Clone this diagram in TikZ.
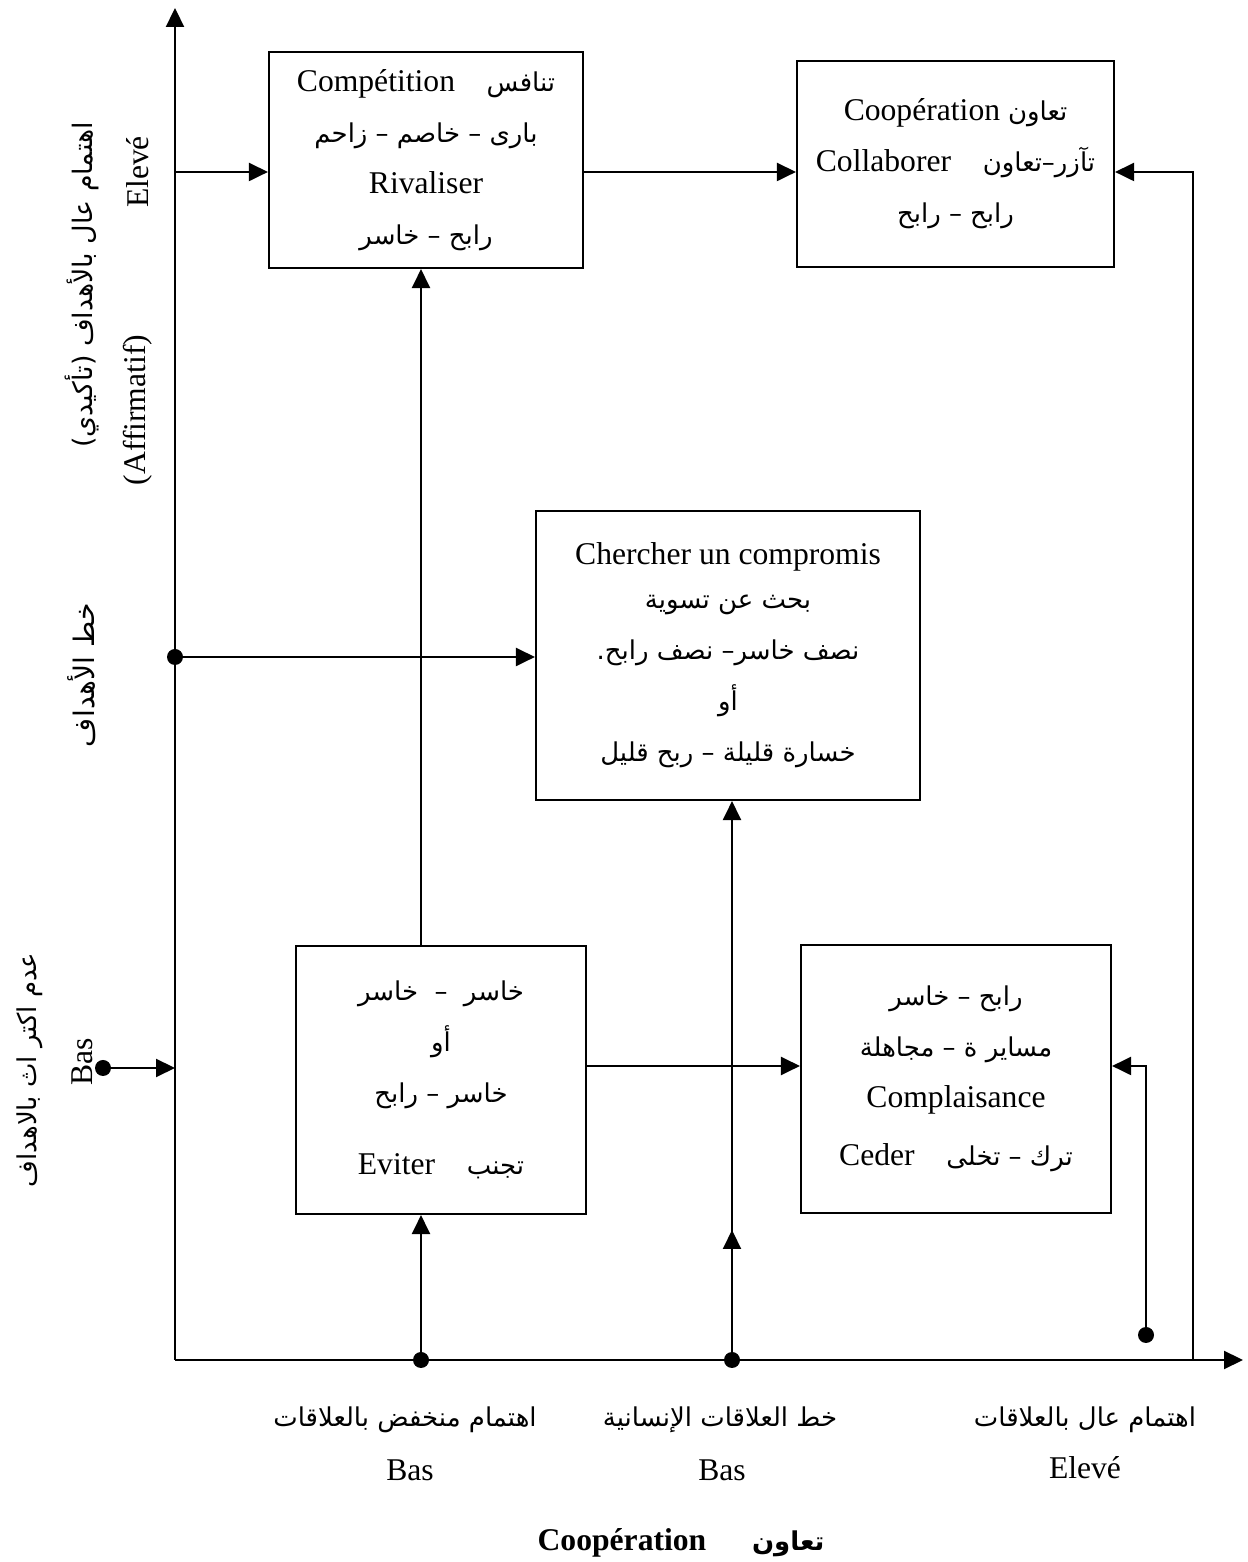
\documentclass[tikz,border=0pt]{standalone}
\usepackage{fontspec}
\setmainfont{Liberation Serif}
\newfontfamily\arabicfont[Script=Arabic,Scale=0.82]{DejaVu Sans}
\TeXXeTstate=1
\usetikzlibrary{arrows.meta}
\newcommand{\arb}[1]{{\arabicfont\beginR #1\endR}}

\begin{document}
\begin{tikzpicture}[
        box/.style={draw, inner sep=0pt, align=center, font=\fontsize{9}{14.5}\selectfont},
        lbl/.style={font=\fontsize{9}{11}\selectfont, inner sep=1pt},
        dot/.style={circle, fill=black, inner sep=0pt, minimum size=0.16cm},
        tip/.style={-{Triangle[length=0.19cm, width=0.18cm]}},
        line width=0.6pt]

        \useasboundingbox (0,0) rectangle (12.48,15.62);

        % boxes
        \node[box, minimum width=3.14cm, minimum height=2.16cm] (comp) at (4.26,14.02)
        {Compétition\quad\arb{تنافس}\\\arb{بارى – خاصم – زاحم}\\Rivaliser\\\arb{رابح – خاسر}};
        \node[box, minimum width=3.17cm, minimum height=2.06cm] (coop) at (9.555,13.98)
        {Coopération \arb{تعاون}\\Collaborer\quad\arb{تآزر–تعاون}\\\arb{رابح – رابح}};
        \node[box, minimum width=3.84cm, minimum height=2.89cm] (compro) at (7.28,9.065)
        {Chercher un compromis\\[-2pt]\arb{بحث عن تسوية}\\\arb{نصف خاسر– نصف رابح{.}}\\\arb{أو}\\\arb{خسارة قليلة – ربح قليل}};
        \node[box, minimum width=2.90cm, minimum height=2.68cm] (evit) at (4.41,4.82)
        {\arb{خاسر \ – \ خاسر}\\\arb{أو}\\\arb{خاسر – رابح}\\[6pt]Eviter\quad\arb{تجنب}};
        \node[box, minimum width=3.10cm, minimum height=2.68cm] (compl) at (9.56,4.83)
        {\arb{رابح – خاسر}\\\arb{مساير ة – مجاهلة}\\Complaisance\\[2pt]Ceder\quad\arb{ترك – تخلى}};

        %%%%%%%%%%%%%%%%%%%%%%%%%%%%%%
        % axes
        \coordinate (orig) at (1.75,2.02);
        \coordinate (ytop) at (1.75,15.54);
        \coordinate (xend) at (12.43,2.02);
        \draw[tip] (orig) -- (ytop);
        \draw[tip] (orig) -- (xend);

        \coordinate (hi) at (1.75,13.90);
        \coordinate (lowrow) at (0,4.96);
        \coordinate (rfoot) at (11.93,2.02);

        \draw[tip] (hi) -- (hi -| comp.west);
        \draw[tip] (comp.east |- hi) -- (coop.west |- hi);
        \draw[tip] (rfoot) |- (coop.east |- hi);

        \node[dot] (dgoal) at (1.75,9.05) {};
        \draw[tip] (dgoal.center) -- (dgoal -| compro.west);

        \node[dot] (dlow) at (4.21,2.02) {};
        \draw[tip] (dlow.center) -- (dlow |- evit.south);
        \draw[tip] (dlow |- evit.north) -- (dlow |- comp.south);

        \node[dot] (dline) at (7.32,2.02) {};
        \draw[tip] (dline.center) -- (dline |- compro.south);
        \draw[tip] (dline.center) -- ++(0,1.30);

        \draw[tip] (evit.east |- lowrow) -- (compl.west |- lowrow);
        \node[dot] (dhigh) at (11.46,2.27) {};
        \draw[tip] (dhigh.center) |- (compl.east |- lowrow);

        \node[dot] (dbas) at (1.03,4.94) {};
        \draw[tip] (dbas.center) -- (dbas -| orig);

        %%%%%%%%%%%%%%%%%%%%%%%%%%%%%%
        % labels of the goal axis
        \node[lbl, rotate=90] (yelev) at (1.38,13.90) {Elevé};
        \node[lbl, rotate=90] (yaff) at (1.38,11.52) {(Affirmatif)};
        \node[lbl, rotate=90, font=\fontsize{9.3}{11}\selectfont] (yhigh) at (0.82,12.77) {\arb{اهتمام عال بالأهداف (تأكيدي)}};
        \node[lbl, rotate=90, font=\fontsize{9.8}{11}\selectfont] (yline) at (0.82,8.87) {\arb{خط الأهداف}};
        \node[lbl, rotate=90] (ylow) at (0.30,4.92) {\arb{عدم اكتر اث بالاهداف}};
        \node[lbl, rotate=90] (ybas) at (0.82,5.00) {Bas};

        % labels of the relation axis
        \node[lbl] (xlow) at (4.05,1.42) {\arb{اهتمام منخفض بالعلاقات}};
        \node[lbl] (xlowb) at (4.10,0.92) {Bas};
        \node[lbl] (xline) at (7.20,1.42) {\arb{خط العلاقات الإنسانية}};
        \node[lbl] (xlineb) at (7.22,0.92) {Bas};
        \node[lbl] (xhigh) at (10.85,1.42) {\arb{اهتمام عال بالعلاقات}};
        \node[lbl] (xhighb) at (10.85,0.94) {Elevé};

        \node[lbl] (xtitle) at (6.81,0.19) {\textbf{Coopération}\hspace{13pt}{\bfseries\arb{تعاون}}};
\end{tikzpicture}
\end{document}
